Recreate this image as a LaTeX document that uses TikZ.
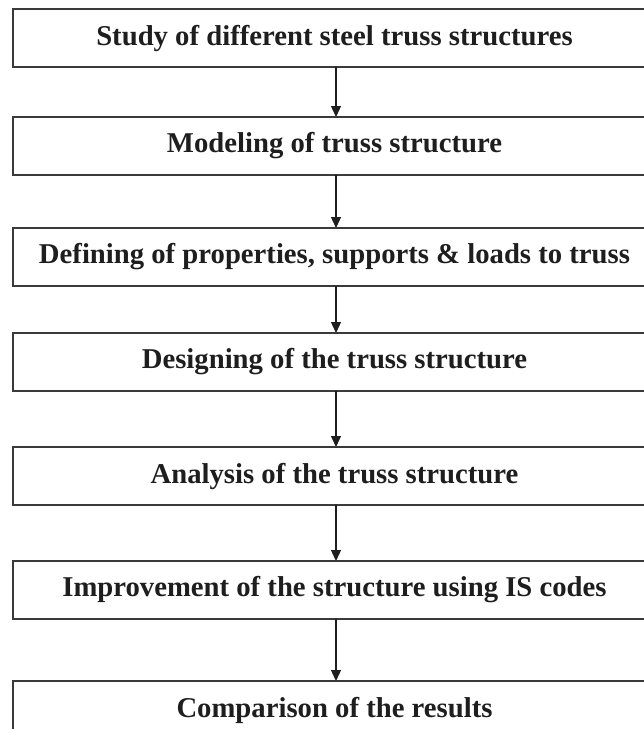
\documentclass[tikz,border=0pt]{standalone}
\usepackage{fontspec}
\setmainfont{Liberation Serif}
\usetikzlibrary{positioning,arrows.meta}

\definecolor{boxline}{HTML}{3A3A3A}
\definecolor{inkline}{HTML}{1E1E1E}

\begin{document}
\begin{tikzpicture}[x=1pt, y=-1pt, node distance=50pt,
                    stage node/.style={rectangle,draw=boxline,line width=1.8pt,outer sep=0pt,
                      minimum width=643pt,minimum height=58pt,inner sep=0pt,
                      text=inkline,font=\fontsize{28.7}{34}\selectfont\bfseries},
                    flow/.style={draw=inkline,line width=1.3pt,-{Triangle[length=11pt,width=10pt]}}]

  \useasboundingbox (0,0) rectangle (644,729);
  \clip (0,0) rectangle (644,729);

  \node[stage node] (study) at (334.5,38) {Study of different steel truss structures};
  \node[stage node] (modeling) [below=50pt of study] {Modeling of truss structure};
  \node[stage node] (defining) [below=53pt of modeling] {Defining of properties, supports \& loads to truss};
  \node[stage node] (designing) [below=47pt of defining] {Designing of the truss structure};
  \node[stage node] (analysis) [below=56pt of designing] {Analysis of the truss structure};
  \node[stage node] (improvement) [below=56pt of analysis] {Improvement of the structure using IS codes};
  \node[stage node] (comparison) [below=62pt of improvement] {Comparison of the results};

  % arrows between the stages
  \draw[flow] ([xshift=1.5pt]study.south) -- ([xshift=1.5pt]modeling.north);
  \draw[flow] ([xshift=1.5pt]modeling.south) -- ([xshift=1.5pt]defining.north);
  \draw[flow] ([xshift=1.5pt]defining.south) -- ([xshift=1.5pt]designing.north);
  \draw[flow] ([xshift=1.5pt]designing.south) -- ([xshift=1.5pt]analysis.north);
  \draw[flow] ([xshift=1.5pt]analysis.south) -- ([xshift=1.5pt]improvement.north);
  \draw[flow] ([xshift=1.5pt]improvement.south) -- ([xshift=1.5pt]comparison.north);

\end{tikzpicture}
\end{document}
